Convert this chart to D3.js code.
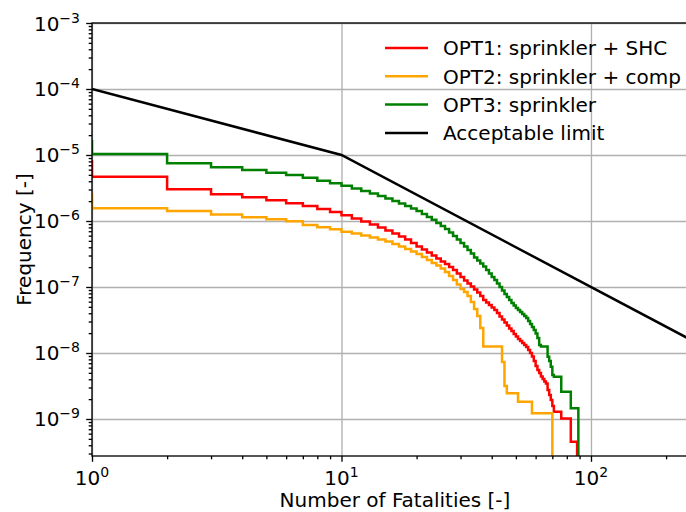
<!DOCTYPE html>
<html lang="en">
<head>
<meta charset="UTF-8">
<title>FN curves</title>
<script src="https://d3js.org/d3.v7.min.js"></script>
<style>
    body { margin: 0; background: #fff; }
    svg { font-family: "DejaVu Sans", sans-serif; }
    .grid line { stroke: #b0b0b0; stroke-width: 1.33px; }
    .grid .domain { display: none; }
    .axis .domain { display: none; }
    .axis line { stroke: #000; stroke-width: 1.33px; }
    .series { fill: none; stroke-width: 2.5px; stroke-linejoin: miter; }
</style>
</head>
<body>
<svg id="chart" width="686" height="512"></svg>
<script>
    // frequency of N or more fatalities, one value per N = 1, 2, 3, ...
    const opt1Start = 8.4e-6;
    const opt1 = [4.69e-6, 3.02e-6, 2.54e-6, 2.29e-6, 2.06e-6, 1.85e-6, 1.69e-6, 1.52e-6, 1.37e-6, 1.22e-6,
        1.09e-6, 9.83e-7, 8.85e-7, 7.97e-7, 7.18e-7, 6.47e-7, 5.82e-7, 5.24e-7, 4.64e-7, 4.11e-7,
        3.70e-7, 3.33e-7, 3.00e-7, 2.70e-7, 2.43e-7, 2.23e-7, 2.01e-7, 1.81e-7, 1.60e-7, 1.42e-7,
        1.25e-7, 1.13e-7, 1.02e-7, 9.17e-8, 8.25e-8, 7.31e-8, 6.35e-8, 5.82e-8, 5.34e-8, 4.89e-8,
        4.48e-8, 4.04e-8, 3.57e-8, 3.22e-8, 2.90e-8, 2.61e-8, 2.35e-8, 2.15e-8, 1.94e-8, 1.78e-8,
        1.63e-8, 1.52e-8, 1.42e-8, 1.32e-8, 1.23e-8, 1.11e-8, 1.00e-8, 8.85e-9, 7.56e-9, 6.35e-9,
        5.53e-9, 4.98e-9, 4.40e-9, 4.04e-9, 3.70e-9, 3.45e-9, 2.75e-9, 2.31e-9, 1.94e-9, 1.57e-9,
        1.29e-9, 1.29e-9, 1.29e-9, 1.29e-9, 1.29e-9,
        1.02e-9, 1.02e-9, 1.02e-9, 1.02e-9, 1.02e-9, 1.02e-9, 1.02e-9,
        4.53e-10, 4.53e-10, 4.53e-10, 4.53e-10, 4.53e-10];

    const opt2Start = 2.66e-6;
    const opt2 = [1.56e-6, 1.42e-6, 1.25e-6, 1.14e-6, 1.06e-6, 9.90e-7, 8.70e-7, 8.03e-7, 7.48e-7, 6.88e-7,
        6.47e-7, 6.03e-7, 5.62e-7, 5.24e-7, 4.89e-7, 4.48e-7, 4.11e-7, 3.77e-7, 3.45e-7, 3.16e-7,
        2.85e-7, 2.56e-7, 2.31e-7, 2.12e-7, 1.91e-7, 1.69e-7, 1.47e-7, 1.28e-7, 1.09e-7, 9.33e-8,
        8.40e-8, 7.31e-8, 5.93e-8, 4.64e-8, 3.64e-8, 2.39e-8,
        1.25e-8, 1.25e-8, 1.25e-8, 1.25e-8, 1.25e-8, 1.25e-8, 1.25e-8,
        7.31e-9, 3.16e-9,
        2.45e-9, 2.45e-9, 2.45e-9, 2.45e-9, 2.45e-9,
        1.83e-9, 1.83e-9, 1.83e-9, 1.83e-9, 1.83e-9, 1.83e-9, 1.83e-9,
        1.22e-9, 1.22e-9, 1.22e-9, 1.22e-9, 1.22e-9, 1.22e-9, 1.22e-9, 1.22e-9, 1.22e-9, 1.22e-9, 1.22e-9, 1.22e-9];

    const opt3Start = 1.69e-5;
    const opt3 = [1.04e-5, 7.48e-6, 6.51e-6, 5.93e-6, 5.39e-6, 4.98e-6, 4.53e-6, 4.08e-6, 3.73e-6, 3.43e-6,
        3.11e-6, 2.85e-6, 2.61e-6, 2.39e-6, 2.19e-6, 2.01e-6, 1.84e-6, 1.69e-6, 1.55e-6, 1.42e-6,
        1.28e-6, 1.15e-6, 1.04e-6, 9.33e-7, 8.40e-7, 7.56e-7, 6.70e-7, 5.93e-7, 5.24e-7, 4.64e-7,
        4.11e-7, 3.64e-7, 3.22e-7, 2.80e-7, 2.52e-7, 2.27e-7, 2.04e-7, 1.81e-7, 1.60e-7, 1.42e-7,
        1.28e-7, 1.13e-7, 1.00e-7, 8.85e-8, 7.83e-8, 7.05e-8, 6.35e-8, 5.72e-8, 5.24e-8, 4.81e-8,
        4.48e-8, 4.18e-8, 3.90e-8, 3.64e-8, 3.39e-8, 3.05e-8, 2.75e-8, 2.48e-8, 2.23e-8, 1.97e-8,
        1.69e-8, 1.32e-8, 1.25e-8, 1.25e-8, 1.25e-8, 1.25e-8,
        8.79e-9, 7.56e-9, 6.20e-9, 4.64e-9,
        4.37e-9, 4.37e-9, 4.37e-9, 4.37e-9, 4.37e-9,
        2.59e-9, 2.59e-9, 2.59e-9, 2.59e-9, 2.59e-9, 2.59e-9, 2.59e-9,
        1.45e-9, 1.45e-9, 1.45e-9, 1.45e-9, 1.45e-9, 1.45e-9];

    // acceptable limit (N, F)
    const limitN = [1, 10, 1000];
    const limitF = [1e-4, 1e-5, 1e-9];

    const labels = ['OPT1: sprinkler + SHC', 'OPT2: sprinkler + comp', 'OPT3: sprinkler', 'Acceptable limit'];
    const colors = ['red', 'orange', 'green', 'black'];

    const xTicks = [1, 10, 100];
    const xTickExp = ['0', '1', '2'];
    const yTicks = [1e-9, 1e-8, 1e-7, 1e-6, 1e-5, 1e-4, 1e-3];
    const yTickExp = ['\u22129', '\u22128', '\u22127', '\u22126', '\u22125', '\u22124', '\u22123'];

    const svg = d3.select('#chart');
    const margin = { top: 23, left: 92 };
    const plotW = 606, plotH = 433;

    const x = d3.scaleLog().domain([1, 268.5]).range([0, plotW]);
    const y = d3.scaleLog().domain([2.75e-10, 1e-3]).range([plotH, 0]);

    // minor ticks 2..9 in each decade
    function minors(scale) {
        let [lo, hi] = scale.domain();
        let out = [];
        for (let e = Math.floor(Math.log10(lo)); e <= Math.ceil(Math.log10(hi)); e++) {
            for (let m = 2; m <= 9; m++) {
                let v = m * Math.pow(10, e);
                if (v >= lo && v <= hi) out.push(v);
            }
        }
        return out;
    }

    svg.append('defs').append('clipPath').attr('id', 'clip')
        .append('rect').attr('width', plotW).attr('height', plotH);

    let g = svg.append('g').attr('transform', `translate(${margin.left},${margin.top})`);

    // gridlines
    g.append('g').attr('class', 'grid')
        .attr('transform', `translate(0,${plotH})`)
        .call(d3.axisBottom(x).tickValues(xTicks).tickSize(-plotH).tickFormat(''));
    g.append('g').attr('class', 'grid')
        .call(d3.axisLeft(y).tickValues(yTicks).tickSize(-plotW).tickFormat(''));

    // series
    let plot = g.append('g').attr('clip-path', 'url(#clip)');
    let line = d3.line()
        .x(d => x(d.n))
        .y(d => d.f > 0 ? y(d.f) : plotH + 10)
        .curve(d3.curveStepAfter);

    function stepPoints(start, vals) {
        let pts = [{ n: 1, f: start }];
        vals.forEach((f, i) => pts.push({ n: i + 1, f: f }));
        pts.push({ n: vals.length + 1, f: 0 });
        return pts;
    }

    let series = [stepPoints(opt1Start, opt1), stepPoints(opt2Start, opt2), stepPoints(opt3Start, opt3)];
    plot.selectAll('path.series')
        .data(series)
        .join('path')
        .attr('class', 'series')
        .attr('stroke', (d, i) => colors[i])
        .attr('d', line);

    plot.append('path')
        .datum(limitN.map((n, i) => ({ n: n, f: limitF[i] })))
        .attr('class', 'series')
        .attr('stroke', colors[3])
        .attr('d', d3.line().x(d => x(d.n)).y(d => y(d.f)));

    // axes ticks
    g.append('g').attr('class', 'axis')
        .attr('transform', `translate(0,${plotH})`)
        .call(d3.axisBottom(x).tickValues(xTicks).tickSize(5.8).tickFormat(''));
    g.append('g').attr('class', 'axis')
        .attr('transform', `translate(0,${plotH})`)
        .call(d3.axisBottom(x).tickValues(minors(x)).tickSize(3.3).tickFormat(''));
    g.append('g').attr('class', 'axis')
        .call(d3.axisLeft(y).tickValues(yTicks).tickSize(5.8).tickFormat(''));
    g.append('g').attr('class', 'axis')
        .call(d3.axisLeft(y).tickValues(minors(y)).tickSize(3.3).tickFormat(''));

    // spines (right one falls outside the picture)
    g.append('rect')
        .attr('width', plotW).attr('height', plotH)
        .attr('fill', 'none').attr('stroke', '#000').attr('stroke-width', 1.33);

    // tick labels with superscripts
    let xl = g.selectAll('text.xtick').data(xTicks).join('text')
        .attr('class', 'xtick')
        .attr('x', d => x(d))
        .attr('y', plotH + 29)
        .attr('text-anchor', 'middle')
        .attr('font-size', 20);
    xl.append('tspan').text('10');
    xl.append('tspan').attr('font-size', 14).attr('dy', -8).text((d, i) => xTickExp[i]);

    let yl = g.selectAll('text.ytick').data(yTicks).join('text')
        .attr('class', 'ytick')
        .attr('x', -12)
        .attr('y', d => y(d) + 7.5)
        .attr('text-anchor', 'end')
        .attr('font-size', 20);
    yl.append('tspan').text('10');
    yl.append('tspan').attr('font-size', 14).attr('dy', -8).text((d, i) => yTickExp[i]);

    // axis titles
    svg.append('text')
        .attr('x', margin.left + plotW / 2).attr('y', 507)
        .attr('text-anchor', 'middle').attr('font-size', 20)
        .text('Number of Fatalities [-]');
    svg.append('text')
        .attr('transform', `translate(31,${margin.top + plotH / 2}) rotate(-90)`)
        .attr('text-anchor', 'middle').attr('font-size', 20)
        .text('Frequency [-]');

    // legend (no frame)
    let legend = svg.append('g').attr('transform', 'translate(385,48)');
    let rows = legend.selectAll('g').data(labels).join('g')
        .attr('transform', (d, i) => `translate(0,${i * 28.3})`);
    rows.append('line')
        .attr('x1', 0).attr('x2', 43)
        .attr('stroke', (d, i) => colors[i]).attr('stroke-width', 2.5);
    rows.append('text')
        .attr('x', 58).attr('dy', '0.36em')
        .attr('font-size', 20)
        .text(d => d);
</script>
</body>
</html>
